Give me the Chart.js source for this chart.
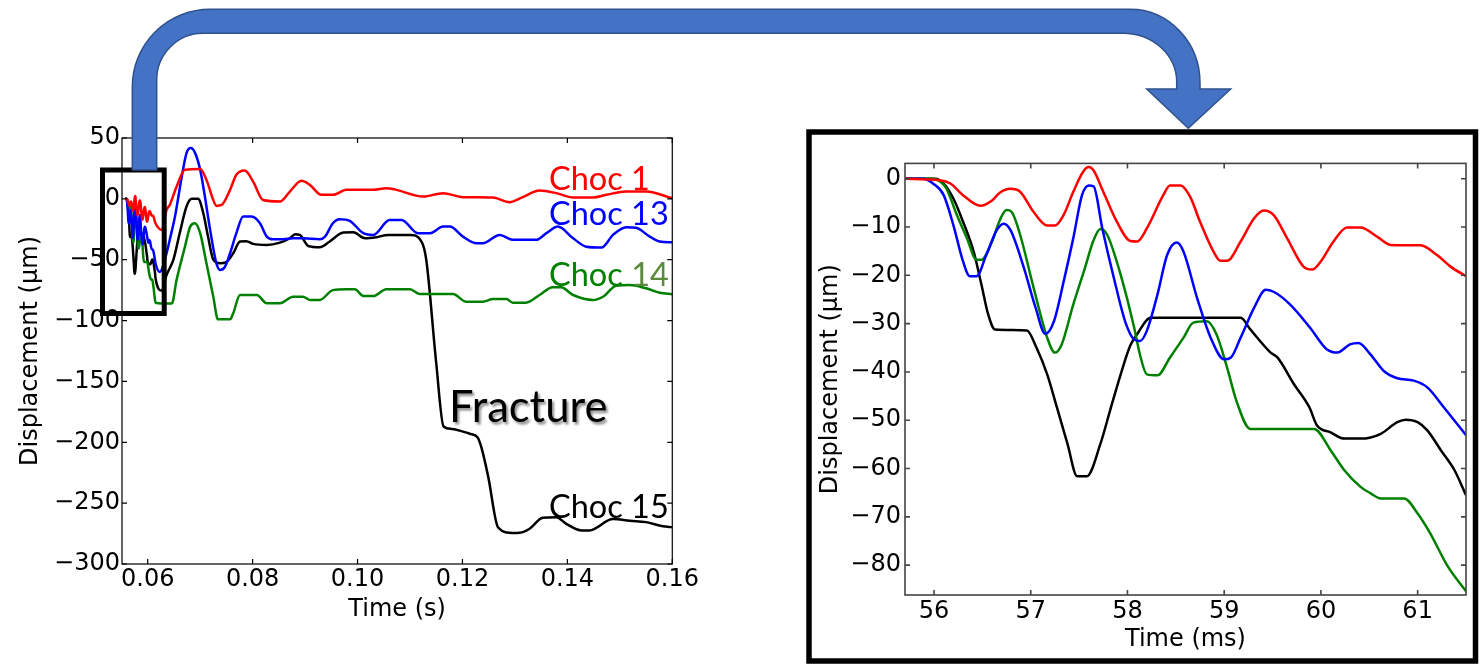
<!DOCTYPE html>
<html><head><meta charset="utf-8">
<script src="https://cdn.jsdelivr.net/npm/chart.js@4.4.0/dist/chart.umd.min.js"></script>
<style>
html,body{margin:0;padding:0;background:#fff;width:1483px;height:664px;overflow:hidden;position:relative}
.c{position:absolute}
svg{position:absolute;left:0;top:0}
</style></head><body>
<div class="c" style="left:0;top:120px;width:700px;height:510px"><canvas id="left"></canvas></div>
<div class="c" style="left:800px;top:145px;width:683px;height:519px"><canvas id="right"></canvas></div>
<svg width="1483" height="664">
<defs><filter id="sh" x="-10%" y="-30%" width="130%" height="170%"><feDropShadow dx="2" dy="2.5" stdDeviation="1.3" flood-color="#000" flood-opacity="0.45"/></filter></defs>
<text x="449" y="421.5" font-family="Lato" font-size="43.5" fill="#000" filter="url(#sh)">Fracture</text>
<text x="549" y="189.5" font-family="Lato" font-size="32.5" fill="#ff0000">Choc 1</text>
<text x="549" y="225" font-family="Lato" font-size="32.5" fill="#0000ff">Choc 13</text>
<text x="549" y="285.7" font-family="Lato" font-size="32.5" fill="#008000">Choc <tspan fill="#5B8A3C">14</tspan></text>
<text x="549" y="518.3" font-family="Lato" font-size="32.5" fill="#000">Choc 15</text>
<rect x="102.5" y="170" width="61.7" height="143.5" fill="none" stroke="#000" stroke-width="5"/>
<path d="M132.3 170 L132.3 87 A77.7 77.7 0 0 1 210 9.3 L1130 9.3 A70 73.7 0 0 1 1200 83 L1200 89 L1230.7 89 L1188.3 128.3 L1146.7 89 L1176.7 89 L1176.7 82 A53.7 48.7 0 0 0 1123 33.3 L203 33.3 A46.3 46.7 0 0 0 156.7 80 L156.7 170 Z" fill="#4472C4" stroke="#2F528F" stroke-width="1.5"/>
<rect x="809" y="132" width="666.5" height="529" fill="none" stroke="#000" stroke-width="5.5"/>
</svg>
<script>
// ---- tick labels ----
const leftXTicks = [0.06, 0.08, 0.10, 0.12, 0.14, 0.16];
const leftYTicks = [50, 0, -50, -100, -150, -200, -250, -300];
const zoomXTicks = [56, 57, 58, 59, 60, 61];
const zoomYTicks = [0, -10, -20, -30, -40, -50, -60, -70, -80];

// ---- zoomed window, time in ms, displacement in um ----
const zoomRed = [[55.70,0],[56.06,-0.3],[56.17,-1],[56.30,-3.4],[56.48,-5.6],[56.60,-4.5],[56.68,-2.9],[56.79,-2.1],[56.89,-2.7],[57.03,-6.9],[57.17,-9.7],[57.25,-9.7],[57.34,-7.5],[57.44,-2.7],[57.54,1.4],[57.60,2.4],[57.65,1.7],[57.75,-2.7],[57.89,-8.9],[58.03,-12.9],[58.10,-13],[58.20,-10.3],[58.37,-3.4],[58.44,-1.4],[58.55,-1.4],[58.65,-3.8],[58.75,-8.9],[58.89,-15.1],[58.96,-17],[59.03,-17],[59.17,-13],[59.31,-8.2],[59.41,-6.6],[59.51,-7.5],[59.65,-12.3],[59.82,-18.2],[59.91,-18.8],[60.00,-17.1],[60.13,-13],[60.27,-10.1],[60.41,-10.1],[60.58,-12],[60.72,-13.7],[61.03,-13.8],[61.20,-15.8],[61.34,-18.2],[61.50,-20.2]];
const zoomBlue = [[55.70,0],[55.89,0],[55.99,-1],[56.10,-3.4],[56.20,-9.6],[56.30,-17.1],[56.37,-20.2],[56.44,-20.2],[56.54,-15.8],[56.65,-10.6],[56.72,-9.3],[56.79,-10.6],[56.93,-18.5],[57.05,-26.7],[57.15,-32.1],[57.24,-29.5],[57.34,-21.3],[57.44,-12.3],[57.53,-3.4],[57.60,-1.4],[57.65,-1.6],[57.74,-10.3],[57.86,-20.6],[57.98,-29.8],[58.07,-33.3],[58.13,-33.6],[58.20,-31.5],[58.31,-24],[58.41,-15.8],[58.51,-13.2],[58.58,-15.1],[58.72,-24.7],[58.86,-32.9],[59.00,-37.4],[59.07,-37],[59.17,-32.9],[59.31,-26.7],[59.43,-23],[59.51,-23.4],[59.68,-26],[59.89,-30.9],[60.06,-35.3],[60.17,-36],[60.30,-34.3],[60.39,-34],[60.51,-36.3],[60.65,-39.8],[60.79,-41.3],[60.96,-41.8],[61.10,-43.2],[61.27,-47.3],[61.50,-53.1]];
const zoomGreen = [[55.70,0],[55.98,0],[56.06,-0.5],[56.13,-2.1],[56.23,-7.2],[56.34,-12.3],[56.44,-16.8],[56.49,-16.8],[56.60,-13],[56.68,-8.6],[56.75,-6.5],[56.80,-6.8],[56.89,-11.6],[57.03,-22.6],[57.17,-32.9],[57.25,-36],[57.32,-34.3],[57.44,-26],[57.56,-18.5],[57.65,-12.7],[57.72,-10.4],[57.79,-11.6],[57.93,-19.9],[58.07,-30.9],[58.13,-36.5],[58.20,-40.5],[58.31,-40.7],[58.44,-37],[58.58,-32.9],[58.68,-29.8],[58.82,-29.5],[58.92,-32.2],[59.03,-39.1],[59.13,-46.2],[59.27,-51.8],[59.93,-51.8],[60.10,-56.2],[60.24,-60.3],[60.41,-63.8],[60.51,-65.1],[60.62,-66.2],[60.86,-66.2],[61.00,-69.3],[61.13,-73.4],[61.31,-80.2],[61.50,-85.4]];
const zoomBlack = [[55.70,0],[56.01,0],[56.10,-1],[56.20,-4.1],[56.30,-8.9],[56.41,-15.1],[56.49,-21.9],[56.56,-28.1],[56.63,-31.2],[56.96,-31.4],[57.06,-35],[57.17,-40.5],[57.27,-47.3],[57.38,-54.9],[57.48,-61.6],[57.58,-61.6],[57.72,-54.9],[57.82,-48],[57.93,-40.5],[58.03,-34.5],[58.10,-32.2],[58.24,-28.8],[59.17,-28.8],[59.27,-31.2],[59.48,-36],[59.55,-37],[59.72,-42.5],[59.88,-47.3],[59.96,-51.1],[60.10,-52.5],[60.24,-53.8],[60.41,-53.8],[60.62,-52.8],[60.79,-50.4],[60.88,-49.9],[61.00,-50.4],[61.10,-52.1],[61.24,-56.2],[61.38,-60.3],[61.50,-65.5]];

// ---- full record after the zoomed window, time in s ----
const lateRed = [[0.0627,-25.5],[0.0636,-9],[0.0642,-5],[0.0655,10],[0.0671,24],[0.0700,24.5],[0.0712,15.6],[0.0725,-1],[0.0731,-5.8],[0.0741,-5],[0.0757,7.4],[0.0769,19.8],[0.0785,23.3],[0.0801,14.2],[0.0820,-1],[0.0852,-2.2],[0.0871,6],[0.0893,14.8],[0.0909,11.5],[0.0931,3.3],[0.0953,3.3],[0.0979,7.4],[0.1030,7.4],[0.1055,8.8],[0.1074,7.4],[0.1125,1.9],[0.1163,4.7],[0.1201,1.4],[0.1258,1.1],[0.1290,-2.7],[0.1315,1.4],[0.1347,6.8],[0.1379,4.7],[0.1411,1.1],[0.1449,1.1],[0.1474,3.3],[0.1512,6],[0.1550,6],[0.1600,0.6]];
const lateBlue = [[0.0623,-60],[0.0636,-44.7],[0.0642,-33.7],[0.0652,-14.5],[0.0665,18.4],[0.0674,37.6],[0.0682,41.7],[0.0690,38],[0.0700,24],[0.0709,1.9],[0.0719,-25.5],[0.0731,-53],[0.0738,-58.4],[0.0747,-56],[0.0757,-44.7],[0.0769,-28.2],[0.0782,-14.5],[0.0798,-14.5],[0.0814,-20],[0.0827,-31],[0.0839,-33.2],[0.0858,-33.2],[0.0877,-32.4],[0.0896,-32.4],[0.0928,-33.2],[0.0938,-31],[0.0953,-20],[0.0966,-16.7],[0.0985,-18],[0.1011,-28.2],[0.1030,-29.6],[0.1061,-17.3],[0.1084,-17.3],[0.1115,-28.2],[0.1138,-28.2],[0.1163,-22.8],[0.1176,-22.8],[0.1201,-31],[0.1227,-36.5],[0.1239,-36.5],[0.1271,-29.6],[0.1296,-33.7],[0.1341,-33.7],[0.1360,-28.2],[0.1382,-22.8],[0.1411,-32.4],[0.1436,-39.3],[0.1465,-40],[0.1487,-29.6],[0.1512,-23.3],[0.1531,-23.8],[0.1557,-31],[0.1576,-35.1],[0.1600,-35.7]];
const lateGreen = [[0.0627,-86],[0.0646,-86],[0.0655,-66.7],[0.0671,-39.3],[0.0681,-22.8],[0.0690,-20],[0.0700,-28.2],[0.0712,-53],[0.0725,-80.4],[0.0734,-99],[0.0757,-99],[0.0763,-94],[0.0776,-79],[0.0808,-79],[0.0827,-85.8],[0.0852,-85.8],[0.0877,-80.4],[0.0896,-80.4],[0.0909,-83],[0.0928,-83],[0.0953,-75],[0.0979,-74.3],[0.0995,-74.3],[0.1011,-79.8],[0.1030,-79.8],[0.1055,-74.3],[0.1100,-74.3],[0.1119,-78.2],[0.1182,-78.2],[0.1207,-84.5],[0.1239,-84.5],[0.1258,-82.3],[0.1284,-82.3],[0.1296,-85.3],[0.1321,-85.3],[0.1347,-79],[0.1372,-72.7],[0.1388,-72.7],[0.1411,-79],[0.1449,-83.1],[0.1468,-80.4],[0.1493,-71.3],[0.1519,-70.8],[0.1550,-73.5],[0.1576,-77.1],[0.1600,-78.4]];
const lateBlack = [[0.0627,-75.4],[0.0636,-62.5],[0.0649,-50],[0.0661,-28.2],[0.0674,-6.3],[0.0684,0],[0.0696,0],[0.0706,-11.8],[0.0715,-31],[0.0725,-50],[0.0738,-53],[0.0750,-52],[0.0763,-44.7],[0.0776,-35.1],[0.0788,-34.8],[0.0801,-37],[0.0827,-37.9],[0.0852,-36],[0.0871,-32.4],[0.0881,-29.1],[0.0890,-29.6],[0.0906,-38.7],[0.0928,-39.8],[0.0947,-35],[0.0973,-27.7],[0.0992,-27.5],[0.1014,-32.4],[0.1036,-31.5],[0.1058,-29.6],[0.1100,-29.6],[0.1122,-35.1],[0.1131,-50],[0.1150,-135],[0.1164,-187],[0.1179,-189],[0.1214,-193],[0.1229,-196],[0.1236,-204],[0.1249,-228],[0.1268,-270],[0.1296,-274.5],[0.1309,-274.3],[0.1328,-271],[0.1353,-262],[0.1379,-261.5],[0.1398,-267],[0.1427,-272.4],[0.1442,-272.4],[0.1487,-263],[0.1519,-264.5],[0.1550,-265.6],[0.1582,-269],[0.1600,-269.7]];

const seriesColors = ['#ff0000', '#0000ff', '#008000', '#000000'];

Chart.defaults.font.family = "'DejaVu Sans'";
Chart.defaults.font.size = 24;
Chart.defaults.color = '#000';

const pts = arr => arr.map(([x, y]) => ({x, y}));
const msToS = arr => arr.map(([t, v]) => [t / 1000, v]);
const minus = v => String(v).replace('-', '\u2212');

const frame = {
  id: 'frame',
  afterDatasetsDraw(chart, args, o) {
    const {ctx, chartArea: a, scales: {x, y}} = chart;
    ctx.save();
    ctx.strokeStyle = o.color; ctx.lineWidth = o.width;
    ctx.beginPath();
    x.ticks.forEach(t => { const p = x.getPixelForValue(t.value);
      ctx.moveTo(p, a.bottom); ctx.lineTo(p, a.bottom - o.len);
      ctx.moveTo(p, a.top); ctx.lineTo(p, a.top + o.len); });
    y.ticks.forEach(t => { const p = y.getPixelForValue(t.value);
      ctx.moveTo(a.left, p); ctx.lineTo(a.left + o.len, p);
      ctx.moveTo(a.right, p); ctx.lineTo(a.right - o.len, p); });
    ctx.stroke();
    ctx.strokeRect(a.left, a.top, a.right - a.left, a.bottom - a.top);
    ctx.restore();
  }
};

function makeChart(id, sets, cfg) {
  return new Chart(document.getElementById(id), {
    type: 'line',
    data: { datasets: sets.map((s, i) => ({
      data: pts(s), borderColor: seriesColors[i], borderWidth: 2.5,
      pointRadius: 0, fill: false, cubicInterpolationMode: 'monotone' })) },
    options: {
      responsive: true, maintainAspectRatio: false, animation: false, devicePixelRatio: 1,
      layout: { padding: cfg.pad },
      plugins: { legend: {display: false}, tooltip: {enabled: false},
        frame: { color: cfg.frameColor, width: cfg.frameWidth, len: 5 } },
      scales: {
        x: { type: 'linear', min: cfg.xmin, max: cfg.xmax,
          grid: {display: false, drawTicks: false, tickLength: 0}, border: {display: false},
          afterBuildTicks: s => { s.ticks = cfg.xticks.map(v => ({value: v})); },
          afterFit: s => { s.height = cfg.xh; },
          ticks: { autoSkip: false, maxRotation: 0, padding: cfg.xpad, callback: cfg.xfmt },
          title: { display: true, text: cfg.xtitle, padding: {top: 0, bottom: 0} } },
        y: { type: 'linear', min: cfg.ymin, max: cfg.ymax,
          grid: {display: false, drawTicks: false, tickLength: 0}, border: {display: false},
          afterBuildTicks: s => { s.ticks = cfg.yticks.map(v => ({value: v})); },
          afterFit: s => { s.width = cfg.yw; },
          ticks: { autoSkip: false, padding: cfg.ypad, callback: v => minus(v) },
          title: { display: true, text: 'Displacement (\u03bcm)', padding: {top: 16, bottom: 0} } }
      }
    },
    plugins: [frame]
  });
}

makeChart('left', [
  msToS(zoomRed).concat(lateRed),
  msToS(zoomBlue).concat(lateBlue),
  msToS(zoomGreen).concat(lateGreen),
  msToS(zoomBlack).concat(lateBlack)
], { pad: {top: 18, right: 27, bottom: 6, left: 0}, xmin: 0.0551, xmax: 0.16, ymin: -300, ymax: 50,
     xticks: leftXTicks, yticks: leftYTicks, xh: 60, yw: 122, xpad: 1, ypad: 2,
     xfmt: v => v.toFixed(2), xtitle: 'Time (s)', frameColor: '#000', frameWidth: 1.2 });

makeChart('right', [zoomRed, zoomBlue, zoomGreen, zoomBlack],
   { pad: {top: 16, right: 17, bottom: 10, left: 0}, xmin: 55.7, xmax: 61.5, ymin: -86.18, ymax: 3.17,
     xticks: zoomXTicks, yticks: zoomYTicks, xh: 59, yw: 105, xpad: 2.3, ypad: 4,
     xfmt: v => String(v), xtitle: 'Time (ms)', frameColor: '#444', frameWidth: 1.6 });
</script>
</body></html>
